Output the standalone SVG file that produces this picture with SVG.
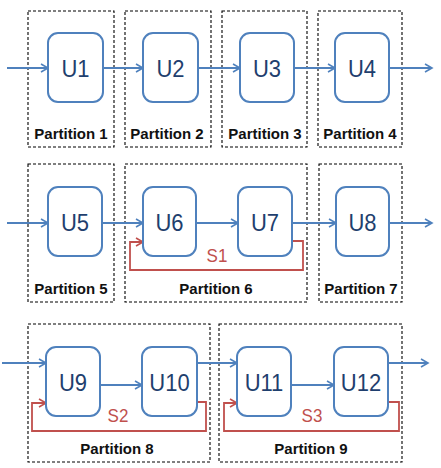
<svg xmlns="http://www.w3.org/2000/svg" width="441" height="468" viewBox="0 0 441 468">
<defs>
<style>
.part{fill:none;stroke:#000;stroke-width:1.1;stroke-dasharray:3,2}
.plab{font-family:"Liberation Sans",Arial,sans-serif;font-weight:bold;font-size:15px;fill:#111;text-anchor:middle}
.unit{fill:#fff;stroke:#4f81bd;stroke-width:2}
.ulab{font-family:"Liberation Sans",Arial,sans-serif;font-size:22px;fill:#1f3f6e;text-anchor:middle}
.flow{fill:none;stroke:#4f81bd;stroke-width:1.8;marker-end:url(#ab)}
.loop{fill:none;stroke:#c0504d;stroke-width:1.8;marker-end:url(#ar)}
.slab{font-family:"Liberation Sans",Arial,sans-serif;font-size:17px;fill:#c0504d;text-anchor:middle}
</style>
<marker id="ab" viewBox="0 0 10 10" refX="8" refY="5" markerWidth="10" markerHeight="10" markerUnits="userSpaceOnUse" orient="auto">
<path d="M1,1 L8,5 L1,9" fill="none" stroke="#4f81bd" stroke-width="1.6"/>
</marker>
<marker id="ar" viewBox="0 0 10 10" refX="8" refY="5" markerWidth="10" markerHeight="10" markerUnits="userSpaceOnUse" orient="auto">
<path d="M1,1 L8,5 L1,9" fill="none" stroke="#c0504d" stroke-width="1.6"/>
</marker>
</defs>
<rect width="441" height="468" fill="#fff"/>
<g id="partitions">
<g id="p1"><rect class="part" x="28" y="11" width="86" height="136"/><text class="plab" x="71" y="138.5">Partition 1</text></g>
<g id="p2"><rect class="part" x="125" y="11" width="86" height="136"/><text class="plab" x="167" y="138.5">Partition 2</text></g>
<g id="p3"><rect class="part" x="222" y="11" width="85" height="136"/><text class="plab" x="265" y="138.5">Partition 3</text></g>
<g id="p4"><rect class="part" x="318" y="11" width="84" height="136"/><text class="plab" x="360" y="138.5">Partition 4</text></g>
<g id="p5"><rect class="part" x="28" y="164" width="86" height="138"/><text class="plab" x="71" y="293.5">Partition 5</text></g>
<g id="p6"><rect class="part" x="125" y="164" width="182" height="138"/><text class="plab" x="216" y="293.5">Partition 6</text></g>
<g id="p7"><rect class="part" x="319" y="164" width="83" height="138"/><text class="plab" x="361" y="293.5">Partition 7</text></g>
<g id="p8"><rect class="part" x="28" y="324" width="182" height="138"/><text class="plab" x="117" y="453.5">Partition 8</text></g>
<g id="p9"><rect class="part" x="219" y="324" width="183" height="138"/><text class="plab" x="311" y="453.5">Partition 9</text></g>
</g>
<g id="connectors">
<path class="flow" d="M7,68 H48"/>
<path class="flow" d="M103,68 H143"/>
<path class="flow" d="M198,68 H240"/>
<path class="flow" d="M294,68 H335"/>
<path class="flow" d="M389,68 H432"/>
<path class="flow" d="M7,223 H48"/>
<path class="flow" d="M102,223 H143"/>
<path class="flow" d="M196,223 H238"/>
<path class="flow" d="M292,223 H336"/>
<path class="flow" d="M389,223 H432"/>
<path class="flow" d="M2,363 H46"/>
<path class="flow" d="M100,385 H142"/>
<path class="flow" d="M197,363 H237"/>
<path class="flow" d="M291,385 H334"/>
<path class="flow" d="M388,363 H428"/>
<path class="loop" d="M292,241 H303 V270 H130 V242 H143"/>
<path class="loop" d="M197,402 H206 V431 H32 V403 H46"/>
<path class="loop" d="M388,402 H399 V431 H224 V403 H237"/>
<text class="slab" transform="translate(217,261.5) scale(1,1.1)">S1</text>
<text class="slab" transform="translate(118,421.5) scale(1,1.1)">S2</text>
<text class="slab" transform="translate(312,421.5) scale(1,1.1)">S3</text>
</g>
<g id="u1"><rect class="unit" x="48" y="33" width="55" height="69" rx="10"/><text class="ulab" transform="translate(75.5,77) scale(1,1.12)">U1</text></g>
<g id="u2"><rect class="unit" x="143" y="33" width="55" height="69" rx="10"/><text class="ulab" transform="translate(170.5,77) scale(1,1.12)">U2</text></g>
<g id="u3"><rect class="unit" x="240" y="33" width="54" height="69" rx="10"/><text class="ulab" transform="translate(267,77) scale(1,1.12)">U3</text></g>
<g id="u4"><rect class="unit" x="335" y="33" width="54" height="69" rx="10"/><text class="ulab" transform="translate(362,77) scale(1,1.12)">U4</text></g>
<g id="u5"><rect class="unit" x="48" y="187" width="54" height="69" rx="10"/><text class="ulab" transform="translate(75,231) scale(1,1.12)">U5</text></g>
<g id="u6"><rect class="unit" x="143" y="187" width="53" height="69" rx="10"/><text class="ulab" transform="translate(169.5,231) scale(1,1.12)">U6</text></g>
<g id="u7"><rect class="unit" x="238" y="187" width="54" height="69" rx="10"/><text class="ulab" transform="translate(265,231) scale(1,1.12)">U7</text></g>
<g id="u8"><rect class="unit" x="336" y="187" width="53" height="69" rx="10"/><text class="ulab" transform="translate(362.5,231) scale(1,1.12)">U8</text></g>
<g id="u9"><rect class="unit" x="46" y="347" width="54" height="69" rx="10"/><text class="ulab" transform="translate(73,391) scale(1,1.12)">U9</text></g>
<g id="u10"><rect class="unit" x="142" y="347" width="55" height="69" rx="10"/><text class="ulab" transform="translate(169.5,391) scale(1,1.12)">U10</text></g>
<g id="u11"><rect class="unit" x="237" y="347" width="54" height="69" rx="10"/><text class="ulab" transform="translate(264,391) scale(1,1.12)">U11</text></g>
<g id="u12"><rect class="unit" x="334" y="347" width="54" height="69" rx="10"/><text class="ulab" transform="translate(361,391) scale(1,1.12)">U12</text></g>
</svg>
